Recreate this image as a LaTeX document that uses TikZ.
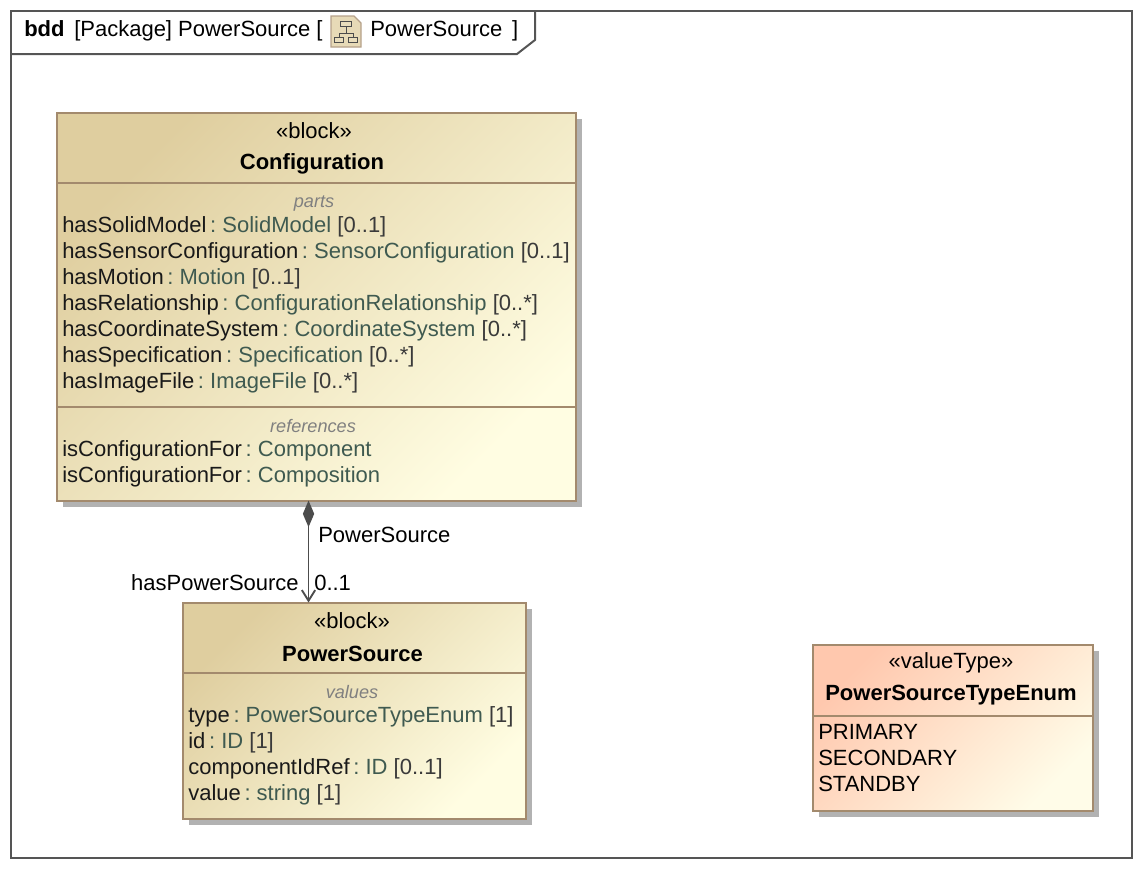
\documentclass[tikz,border=0pt]{standalone}
\usepackage{fontspec}
\setmainfont{Liberation Sans}
\usepackage{xcolor}
\usetikzlibrary{arrows.meta}
\usetikzlibrary{positioning}
\usetikzlibrary{shadows}
\usetikzlibrary{calc}
\definecolor{boxedge}{HTML}{A38A6D}
\definecolor{tandark}{HTML}{DFCE9F}
\definecolor{tanlight}{HTML}{FFFDE2}
\definecolor{peachdark}{HTML}{FFC8AE}
\definecolor{peachlight}{HTML}{FFFCE8}
\definecolor{shadowgrey}{HTML}{B2B2B2}
\definecolor{framegrey}{HTML}{555555}
\definecolor{typegreen}{HTML}{3F5A50}
\definecolor{multgrey}{HTML}{3A3A3A}
\newcommand{\attr}[3]{{\color{black!90}#1}{\color{typegreen}\,:~#2}{\color{multgrey}~#3}}
\newcommand{\refattr}[2]{{\color{black!90}#1}{\color{typegreen}\,:~#2}}
\tikzset{
  txt/.style = {font=\fontsize{16.5}{19.5}\selectfont, inner sep=0pt},
  rows/.style = {txt, align=left, anchor=north west,
    execute at begin node={\setlength{\baselineskip}{19.5pt}}},
  boxbase/.style = {rectangle, draw=boxedge, line width=1.5pt, inner sep=0pt, outer sep=0pt,
    anchor=north west,
    drop shadow={shadow xshift=4.5pt, shadow yshift=-4.5pt, fill=shadowgrey, opacity=1}},
  blockbox/.style = {boxbase, top color=tandark, bottom color=tanlight, shading angle=45},
  valuebox/.style = {boxbase, top color=peachdark, bottom color=peachlight, shading angle=45},
  divider/.style = {draw=boxedge, line width=1.5pt},
  stereo/.style = {txt},
  title/.style = {txt, font=\fontsize{16.5}{19.5}\selectfont\bfseries},
  tag/.style = {txt, font=\fontsize{13.6}{16}\selectfont\itshape, text=black!50},
  iconpart/.style = {draw=black!70, fill=tandark!70, line width=0.6pt}
}
\begin{document}
\begin{tikzpicture}[x=0.75pt,y=-0.75pt]
\useasboundingbox (0,0) rectangle (1142,868);
% frame and its tab
\node [rectangle, draw=framegrey, line width=1.5pt, anchor=north west, inner sep=0pt, outer sep=0pt,
  minimum width=840.75pt, minimum height=635.25pt] (frame) at (11,11) {};
\coordinate (tabA) at (535,11);
\coordinate (tabB) at (535,40);
\coordinate (tabC) at (517,54);
\coordinate (tabD) at (11,54);
\draw [draw=framegrey, line width=1.5pt] (tabA) -- (tabB) -- (tabC) -- (tabD);
\node [txt, anchor=base west, font=\fontsize{16.5}{19.5}\selectfont\bfseries] (kind) at (24,36) {bdd};
\node [txt, anchor=base west] (head) at (74,36) {[Package] PowerSource [};
\node [txt, anchor=base west] (headb) at (370,36) {PowerSource \,]};
% diagram icon
\fill [tandark!75, draw=boxedge!80, line width=1pt] (331,16) -- (354,16) -- (361,23) -- (361,47) -- (331,47) -- cycle;
\node [iconpart, minimum width=8pt, minimum height=4pt, inner sep=0pt] (iconA) at (346,24) {};
\node [iconpart, minimum width=6.5pt, minimum height=4pt, inner sep=0pt] (iconB) at (339,40) {};
\node [iconpart, minimum width=6.5pt, minimum height=4pt, inner sep=0pt] (iconC) at (353,40) {};
\draw [black!70, line width=0.6pt] (iconA.south) -- (346,33) -| (iconB.north);
\draw [black!70, line width=0.6pt] (346,33) -| (iconC.north);

% Configuration block
\node [blockbox, minimum width=389.25pt, minimum height=291pt] (conf) at (56.5,112.5) {};
\draw [divider] (56.5,183) -- (575.5,183);
\draw [divider] (56.5,406.5) -- (575.5,406.5);
\node [stereo] (confS) at (314,131) {«block»};
\node [title] (confT) at (312,163.5) {Configuration};
\node [tag] (confP) at (314,204) {parts};
\node [rows] (confRows) at (62,216) {%
  \attr{hasSolidModel}{SolidModel}{[0..1]}\\
  \attr{hasSensorConfiguration}{SensorConfiguration}{[0..1]}\\
  \attr{hasMotion}{Motion}{[0..1]}\\
  \attr{hasRelationship}{ConfigurationRelationship}{[0..*]}\\
  \attr{hasCoordinateSystem}{CoordinateSystem}{[0..*]}\\
  \attr{hasSpecification}{Specification}{[0..*]}\\
  \attr{hasImageFile}{ImageFile}{[0..*]}};
\node [tag] (confR) at (313,426) {references};
\node [rows] (confRefs) at (62,440) {%
  \refattr{isConfigurationFor}{Component}\\
  \refattr{isConfigurationFor}{Composition}};

% PowerSource block
\node [blockbox, minimum width=257.25pt, minimum height=162pt] (ps) at (182.5,602.5) {};
\draw [divider] (182.5,672.5) -- (525.5,672.5);
\node [stereo] (psS) at (352,621) {«block»};
\node [title] (psT) at (352.5,653.5) {PowerSource};
\node [tag] (psV) at (352,692) {values};
\node [rows] (psRows) at (188,706) {%
  \attr{type}{PowerSourceTypeEnum}{[1]}\\
  \attr{id}{ID}{[1]}\\
  \attr{componentIdRef}{ID}{[0..1]}\\
  \attr{value}{string}{[1]}};

% value type
\node [valuebox, minimum width=210pt, minimum height=124.5pt] (vt) at (812.5,644.5) {};
\draw [divider] (812.5,715.5) -- (1092.5,715.5);
\node [stereo] (vtS) at (951,663) {«valueType»};
\node [title] (vtT) at (951,695) {PowerSourceTypeEnum};
\node [rows] (vtRows) at (818,724) {%
  PRIMARY\\
  SECONDARY\\
  STANDBY};

% composition
\coordinate (compTop) at ([xshift=-5.6pt]conf.south);
\draw [{Diamond[length=20pt,width=8.5pt,fill=black!70]}-{Straight Barb[length=8pt,width=10pt]}, draw=black!70, line width=1.4pt]
  (compTop) -- (compTop |- ps.north);
\node [txt, anchor=west] (lblA) at (318,535) {PowerSource};
\node [txt, anchor=east] (lblB) at (299,583) {hasPowerSource};
\node [txt, anchor=west] (lblC) at (314,583) {0..1};
\end{tikzpicture}
\end{document}
